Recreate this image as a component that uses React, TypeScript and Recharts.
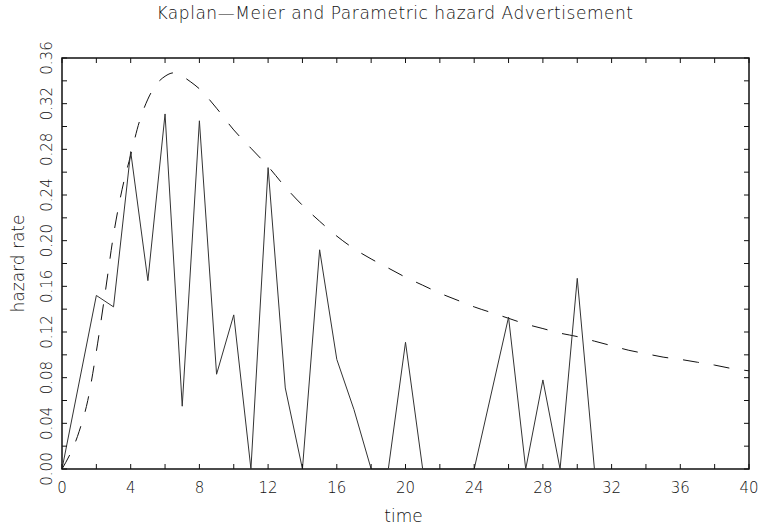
import { LineChart, Line, XAxis, YAxis, ReferenceArea } from 'recharts'

// Kaplan-Meier hazard estimate (solid)
const kmTimes = [0, 2, 3, 4, 5, 6, 7, 8, 9, 10, 11, 12, 13, 14, 15, 16, 17, 18, 19, 20, 21, 24, 26, 27, 28, 29, 30, 31]
const kmHazard = [0, 0.152, 0.142, 0.278, 0.165, 0.311, 0.055, 0.305, 0.083, 0.135, 0, 0.264, 0.071, 0, 0.192, 0.096, 0.052, 0, 0, 0.111, 0, 0, 0.133, 0, 0.078, 0, 0.167, 0]

// Parametric hazard fit (dashed)
const parTimes = [0, 1, 1.5, 2, 2.5, 3, 3.5, 4, 4.5, 5, 5.5, 6, 6.5, 7, 7.5, 8, 9, 10, 11, 12, 13, 14, 15, 16, 17, 18, 19, 20, 21, 22, 23, 24, 25, 26, 27, 28, 29, 30, 31, 32, 33, 34, 35, 36, 37, 38, 39, 40]
const parHazard = [0, 0.033, 0.06, 0.103, 0.153, 0.205, 0.245, 0.275, 0.304, 0.324, 0.337, 0.344, 0.347, 0.344, 0.339, 0.333, 0.316, 0.297, 0.281, 0.265, 0.247, 0.231, 0.217, 0.204, 0.193, 0.184, 0.176, 0.168, 0.161, 0.154, 0.148, 0.142, 0.137, 0.132, 0.127, 0.123, 0.119, 0.116, 0.112, 0.108, 0.104, 0.101, 0.098, 0.096, 0.0935, 0.091, 0.088, 0.086]

const xTicks = [0, 2, 4, 6, 8, 10, 12, 14, 16, 18, 20, 22, 24, 26, 28, 30, 32, 34, 36, 38, 40]
const yTicks = [0, 0.02, 0.04, 0.06, 0.08, 0.1, 0.12, 0.14, 0.16, 0.18, 0.2, 0.22, 0.24, 0.26, 0.28, 0.3, 0.32, 0.34, 0.36]

const W = 760
const H = 526
const TOP = 58
const RIGHT = 11
const font = '"DejaVu Sans", sans-serif'
const ink = '#111'

const kmData = kmTimes.map((t, i) => ({ t, h: kmHazard[i] }))
const parData = parTimes.map((t, i) => ({ t, h: parHazard[i] }))

function XTick(props: any) {
  const { x, y, payload } = props
  const v = payload.value
  return (
    <g>
      <line x1={x} y1={y} x2={x} y2={y - 5} stroke={ink} />
      <line x1={x} y1={TOP} x2={x} y2={TOP + 5} stroke={ink} />
      {v % 4 === 0 && (
        <text x={x} y={y + 19} textAnchor="middle" dominantBaseline="central" fontSize={15} fontFamily={font} fontWeight={200} fill={ink}>
          {v}
        </text>
      )}
    </g>
  )
}

function YTick(props: any) {
  const { x, y, payload } = props
  const v = payload.value
  const major = Math.round(v * 100) % 4 === 0
  const lx = x - 15
  return (
    <g>
      <line x1={x} y1={y} x2={x + 5} y2={y} stroke={ink} />
      <line x1={W - RIGHT} y1={y} x2={W - RIGHT - 5} y2={y} stroke={ink} />
      {major && (
        <text x={lx} y={y} transform={`rotate(-90 ${lx} ${y})`} textAnchor="middle" dominantBaseline="central" fontSize={15} fontFamily={font} fontWeight={200} fill={ink}>
          {v.toFixed(2)}
        </text>
      )}
    </g>
  )
}

export default function App() {
  return (
    <div style={{ position: 'absolute', left: 0, top: 0, width: W, height: H, background: '#fff' }}>
      <div style={{ position: 'absolute', left: 0, top: 2, width: 790, textAlign: 'center', fontFamily: font, fontWeight: 200, fontSize: 17, letterSpacing: '0.55px', color: ink, lineHeight: '22px' }}>
        Kaplan—Meier and Parametric hazard Advertisement
      </div>
      <LineChart width={W} height={H} data={kmData} margin={{ top: TOP, right: RIGHT, left: 0, bottom: 0 }}>
        <ReferenceArea x1={0} x2={40} y1={0} y2={0.36} fill="none" stroke={ink} strokeWidth={1.5} ifOverflow="visible" />
        <XAxis
          dataKey="t"
          type="number"
          domain={[0, 40]}
          ticks={xTicks}
          interval={0}
          height={57}
          tickSize={0}
          tickMargin={0}
          axisLine={false}
          tickLine={false}
          tick={<XTick />}
          label={{
            content: (p: any) => {
              const vb = p.viewBox
              return (
                <text x={vb.x + vb.width / 2 - 2} y={vb.y + 47} textAnchor="middle" dominantBaseline="central" fontSize={17} fontFamily={font} fontWeight={200} fill={ink}>
                  time
                </text>
              )
            },
          }}
        />
        <YAxis
          type="number"
          domain={[0, 0.36]}
          ticks={yTicks}
          interval={0}
          width={62}
          tickSize={0}
          tickMargin={0}
          axisLine={false}
          tickLine={false}
          tick={<YTick />}
          label={{
            content: (p: any) => {
              const vb = p.viewBox
              const cx = vb.x + 18
              const cy = vb.y + vb.height / 2
              return (
                <text x={cx} y={cy} transform={`rotate(-90 ${cx} ${cy})`} textAnchor="middle" dominantBaseline="central" fontSize={17} fontFamily={font} fontWeight={200} fill={ink}>
                  hazard rate
                </text>
              )
            },
          }}
        />
        <Line data={parData} dataKey="h" type="monotone" stroke={ink} strokeWidth={1} strokeDasharray="16 15" dot={false} isAnimationActive={false} />
        <Line data={kmData} dataKey="h" type="linear" stroke="#333" strokeWidth={1} dot={false} isAnimationActive={false} />
      </LineChart>
    </div>
  )
}
